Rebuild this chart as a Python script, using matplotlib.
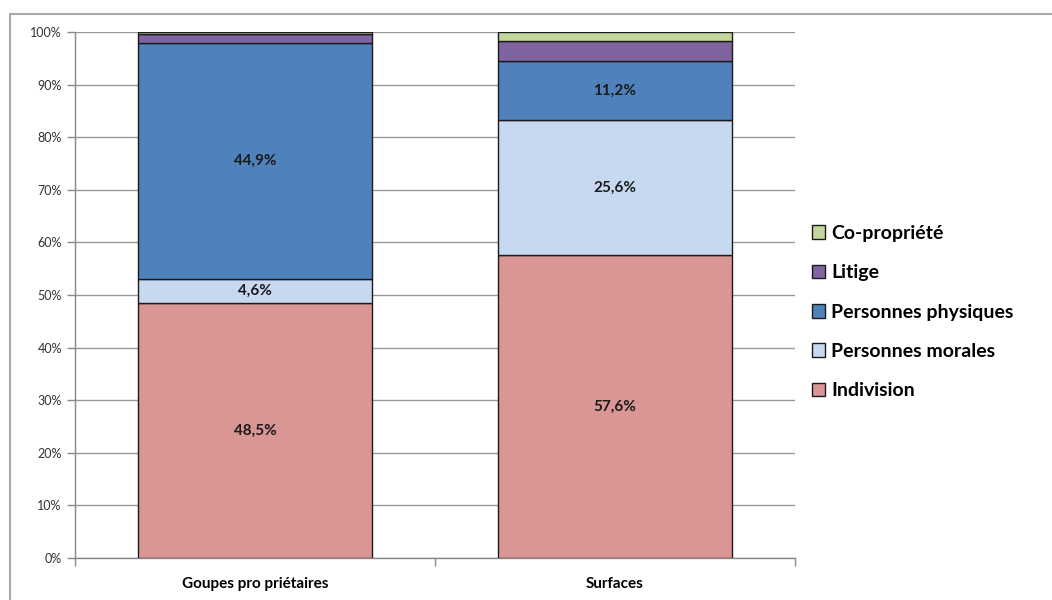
import matplotlib.pyplot as plt
from matplotlib.lines import Line2D
from matplotlib.ticker import FuncFormatter

plt.rcParams['font.family'] = ['Lato', 'DejaVu Sans']

categories = ["Goupes pro priétaires", "Surfaces"]
series = ["Indivision", "Personnes morales", "Personnes physiques", "Litige", "Co-propriété"]
indivision = [48.5, 57.6]
morales = [4.6, 25.6]
physiques = [44.9, 11.2]
litige = [1.6, 3.8]
copro = [0.4, 1.8]
colors = ["#D99694", "#C6D9F1", "#4F81BD", "#8064A2", "#C3D69B"]

# labels shown only on the big segments
show_label = [[True, True], [True, True], [True, True], [False, False], [False, False]]

fig = plt.figure(figsize=(10.52, 6), dpi=100)
ax = fig.add_axes([75 / 1052, 1 - 558 / 600, 720 / 1052, 526 / 600])

x = [0, 1]
bottom = [0, 0]
for vals, col, name, show in zip([indivision, morales, physiques, litige, copro], colors, series, show_label):
    bars = ax.bar(x, vals, bottom=bottom, width=0.65, color=col, edgecolor="#1a1a1a",
                  linewidth=1.0, label=name, zorder=3)
    for i, b in enumerate(bars):
        if show[i]:
            ax.text(b.get_x() + b.get_width() / 2, bottom[i] + vals[i] / 2,
                    f"{vals[i]:.1f}%".replace(".", ","), ha="center", va="center",
                    fontsize=11, fontweight="bold", color="#1a1a1a", zorder=4)
    bottom = [bottom[i] + vals[i] for i in range(2)]

ax.set_xlim(-0.5, 1.5)
ax.set_ylim(0, 100)
ax.set_yticks(range(0, 101, 10))
ax.yaxis.set_major_formatter(FuncFormatter(lambda v, p: f"{int(v)}%"))
ax.tick_params(axis="y", labelsize=9, colors="#888888", labelcolor="#333333", length=6, width=1)
ax.set_xticks(x)
ax.set_xticklabels(categories, fontsize=11, fontweight="bold")
ax.tick_params(axis="x", length=0, pad=14)
ax.set_xticks([-0.5, 0.5, 1.5], minor=True)
ax.tick_params(axis="x", which="minor", length=6, color="#888888", width=1)
ax.grid(axis="y", color="#999999", linewidth=1, zorder=0)
for s in ["top", "right"]:
    ax.spines[s].set_visible(False)
for s in ["left", "bottom"]:
    ax.spines[s].set_color("#888888")
    ax.spines[s].set_linewidth(1)

handles, labels = ax.get_legend_handles_labels()
leg = fig.legend(handles[::-1], labels[::-1], loc="center left", bbox_to_anchor=(794 / 1052, 1 - 312 / 600),
                 frameon=False, prop={"size": 14, "weight": "bold"}, handlelength=0.7, handleheight=0.7,
                 handletextpad=0.3, labelspacing=1.15)

# outer chart frame
fig.add_artist(Line2D([10 / 1052, 10 / 1052], [0, 1 - 14 / 600], transform=fig.transFigure, color="#aaaaaa", lw=1.5))
fig.add_artist(Line2D([10 / 1052, 1], [1 - 14 / 600, 1 - 14 / 600], transform=fig.transFigure, color="#aaaaaa", lw=1.5))

fig.savefig("out.png", dpi=100)
